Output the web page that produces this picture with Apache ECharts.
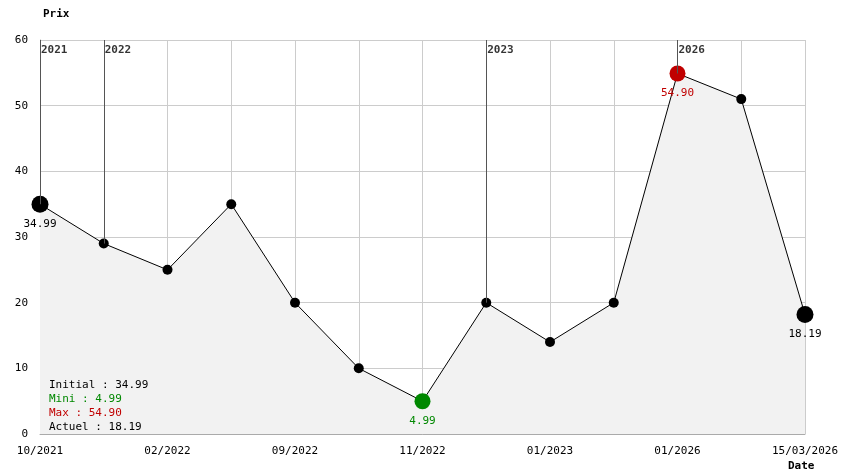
<!DOCTYPE html>
<html>
<head>
<meta charset="utf-8">
<script src="https://cdn.jsdelivr.net/npm/echarts@6/dist/echarts.min.js"></script>
<style>html,body{margin:0;background:#fff}#chart{width:844px;height:474px}</style>
</head>
<body>
<div id="chart"></div>
<script>
var dateLabels = ['10/2021', '', '02/2022', '', '09/2022', '', '11/2022', '', '01/2023', '', '01/2026', '', '15/03/2026'];
var prices = [34.99, 29, 25, 35, 20, 10, 4.99, 20, 14, 20, 54.90, 51, 18.19];
var yearIdx = [0, 1, 7, 10];
var yearLabels = ['2021', '2022', '2023', '2026'];
var minIdx = 6, maxIdx = 10;

var font = 'DejaVu Sans Mono';
var myChart = echarts.init(document.getElementById('chart'));

var pts = prices.map(function(v, i) {
    var p = { value: [i, v], symbolSize: 10, itemStyle: { color: '#000' } };
    if (i === 0 || i === prices.length - 1) {
        p.symbolSize = 17;
        p.label = { show: true, position: 'bottom', formatter: v.toFixed(2), color: '#000' };
    }
    if (i === minIdx) {
        p.symbolSize = 16;
        p.itemStyle = { color: '#008800' };
        p.label = { show: true, position: 'bottom', formatter: v.toFixed(2), color: '#008800' };
    }
    if (i === maxIdx) {
        p.symbolSize = 16;
        p.itemStyle = { color: '#c00000' };
        p.label = { show: true, position: 'bottom', formatter: v.toFixed(2), color: '#c00000' };
    }
    return p;
});

var legendLines = [
    ['Initial : ' + prices[0].toFixed(2), '#000'],
    ['Mini : ' + prices[minIdx].toFixed(2), '#008800'],
    ['Max : ' + prices[maxIdx].toFixed(2), '#c00000'],
    ['Actuel : ' + prices[prices.length - 1].toFixed(2), '#000']
];

option = {
    animation: false,
    backgroundColor: '#fff',
    textStyle: { fontFamily: font },
    grid: { left: 40, right: 39, top: 40, bottom: 40 },
    title: [
        { text: 'Prix', left: 38, top: 4, textStyle: { fontFamily: font, fontSize: 11, fontWeight: 'bold', color: '#000' } },
        { text: 'Date', left: 783, top: 456, textStyle: { fontFamily: font, fontSize: 11, fontWeight: 'bold', color: '#000' } }
    ],
    graphic: legendLines.map(function(l, k) {
        return {
            type: 'text', left: 49, top: 380 + k * 14, z: 100,
            style: { text: l[0], fill: l[1], font: '11px "DejaVu Sans Mono"' }
        };
    }),
    xAxis: {
        type: 'value', min: 0, max: prices.length - 1, interval: 1,
        axisLine: { lineStyle: { color: '#aaa' } },
        axisTick: { show: false },
        splitLine: { lineStyle: { color: '#ccc' } },
        axisLabel: {
            fontFamily: font, fontSize: 11, color: '#000', margin: 12,
            formatter: function(v) { return dateLabels[v] || ''; }
        }
    },
    yAxis: {
        type: 'value', min: 0, max: 60, interval: 10,
        axisLine: { show: true, lineStyle: { color: '#aaa' } },
        axisTick: { show: false },
        splitLine: { lineStyle: { color: '#ccc' } },
        axisLabel: { fontFamily: font, fontSize: 11, color: '#000', margin: 12 }
    },
    series: [{
        type: 'line',
        data: pts,
        symbol: 'circle',
        lineStyle: { color: '#000', width: 1 },
        areaStyle: { color: '#f2f2f2', opacity: 1 },
        label: { fontFamily: font, fontSize: 11, distance: 6 },
        markLine: {
            silent: true, symbol: 'none',
            lineStyle: { color: '#555', width: 1, type: 'solid' },
            label: { show: false },
            data: yearIdx.map(function(i) { return [{ coord: [i, 60] }, { coord: [i, prices[i]] }]; })
        },
        z: 3
    }, {
        type: 'scatter',
        symbolSize: 0,
        data: yearIdx.map(function(i, k) { return { value: [i, 60], name: yearLabels[k] }; }),
        label: {
            show: true, position: 'right', offset: [-4, 10], formatter: '{b}',
            fontFamily: font, fontSize: 11, fontWeight: 'bold', color: '#000'
        },
        z: 4
    }]
};

option && myChart.setOption(option);
</script>
</body>
</html>
